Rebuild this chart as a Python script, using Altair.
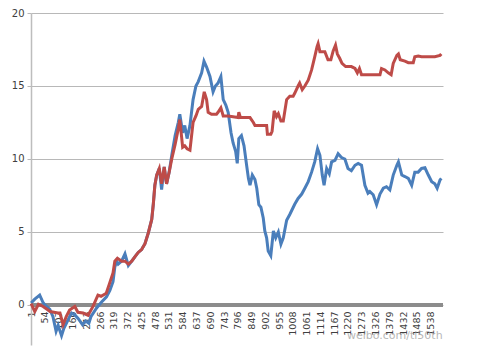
import altair as alt
import pandas as pd

blue_x = [1, 15, 34, 46, 54, 73, 85, 97, 105, 118, 127, 138, 149, 157, 170, 181, 199, 211, 223, 231,
          253, 272, 291, 304, 316, 323, 330, 336, 349, 362, 370, 375, 388, 400, 413, 426, 439, 452, 465, 471,
          477, 484, 494, 503, 513, 522, 532, 542, 555, 567, 573, 584, 592, 601, 612, 624, 635, 644, 657, 666,
          676, 689, 701, 710, 720, 731, 740, 750, 759, 770, 778, 788, 794, 800, 810, 820, 830, 837, 843, 852,
          862, 869, 877, 885, 894, 900, 907, 913, 923, 933, 942, 952, 962, 971, 984, 996, 1015, 1028, 1042, 1054,
          1067, 1080, 1092, 1103, 1112, 1121, 1128, 1138, 1148, 1157, 1170, 1182, 1195, 1208, 1220, 1233, 1247, 1259, 1272, 1285,
          1297, 1304, 1317, 1330, 1343, 1356, 1368, 1381, 1394, 1408, 1414, 1427, 1439, 1452, 1465, 1477, 1490, 1503, 1516, 1529,
          1542, 1554, 1563, 1574, 1579]
blue_y = [0.13, 0.4, 0.68, 0.2, 0.0, -0.3, -0.8, -1.8, -1.4, -2.1, -1.6, -1.2, -0.8, -0.55, -0.7, -0.9, -1.35, -1.1, -1.25, -0.8,
          -0.2, 0.2, 0.56, 1.0, 1.6, 2.6, 3.0, 2.8, 3.0, 3.5, 3.0, 2.7, 3.0, 3.3, 3.6, 3.8, 4.2, 4.95, 5.86, 6.9,
          8.2, 8.9, 9.35, 7.9, 9.46, 8.3, 9.1, 10.25, 11.6, 12.5, 13.06, 11.8, 12.3, 11.4, 12.3, 14.07, 15.0, 15.3, 15.9, 16.7,
          16.3, 15.65, 14.6, 15.0, 15.2, 15.65, 14.07, 13.7, 13.2, 11.8, 11.1, 10.5, 9.7, 11.4, 11.6, 10.9, 9.57, 8.67, 8.2, 8.9,
          8.6, 8.0, 6.87, 6.7, 5.96, 5.07, 4.6, 3.7, 3.38, 5.07, 4.6, 5.0, 4.17, 4.6, 5.8, 6.2, 6.9, 7.3, 7.6, 8.0,
          8.45, 9.1, 9.8, 10.7, 10.25, 8.9, 8.2, 9.35, 9.0, 9.8, 9.9, 10.36, 10.1, 10.0, 9.35, 9.2, 9.57, 9.7, 9.57, 8.2,
          7.66, 7.77, 7.55, 6.87, 7.6, 8.0, 8.1, 7.88, 8.9, 9.57, 9.8, 8.9, 8.8, 8.67, 8.2, 9.1, 9.1, 9.35, 9.4, 8.9,
          8.45, 8.3, 8.0, 8.56, 8.67]

red_x = [1, 15, 29, 47, 66, 74, 104, 112, 124, 136, 149, 169, 181, 201, 220, 239, 258, 270, 290, 303,
         316, 323, 333, 349, 362, 375, 388, 400, 413, 426, 439, 452, 465, 471, 477, 484, 494, 503, 513, 522,
         532, 542, 555, 567, 573, 584, 592, 601, 612, 624, 635, 644, 657, 667, 676, 682, 695, 714, 720, 731,
         740, 759, 797, 800, 806, 830, 843, 856, 862, 888, 907, 910, 923, 928, 936, 945, 952, 962, 971, 984,
         996, 1009, 1015, 1028, 1034, 1044, 1054, 1067, 1080, 1092, 1101, 1105, 1112, 1131, 1143, 1154, 1163, 1172, 1179, 1188,
         1197, 1211, 1233, 1247, 1256, 1264, 1272, 1285, 1343, 1349, 1362, 1375, 1386, 1394, 1408, 1414, 1421, 1439, 1452, 1471,
         1477, 1490, 1503, 1529, 1554, 1574, 1579]
red_y = [0.1, -0.45, 0.05, -0.1, -0.34, -0.45, -0.55, -0.55, -1.35, -0.8, -0.34, -0.1, -0.5, -0.55, -0.7, -0.1, 0.68, 0.6, 0.8, 1.5,
         2.2, 3.0, 3.2, 3.0, 3.0, 2.8, 3.0, 3.3, 3.6, 3.8, 4.2, 4.95, 5.86, 6.9, 8.2, 8.9, 9.35, 8.3, 9.46, 8.3,
         9.1, 10.0, 11.0, 12.05, 12.7, 10.8, 10.9, 10.7, 10.6, 12.5, 12.95, 13.4, 13.6, 14.6, 14.07, 13.2, 13.06, 13.06, 13.2, 13.5,
         12.95, 12.95, 12.84, 13.2, 12.84, 12.84, 12.84, 12.5, 12.3, 12.3, 12.3, 11.7, 11.7, 11.9, 13.3, 12.9, 13.1, 12.6, 12.6, 14.07,
         14.3, 14.3, 14.5, 15.0, 15.2, 14.75, 15.0, 15.4, 16.1, 17.0, 17.7, 17.9, 17.35, 17.35, 16.8, 16.8, 17.4, 17.8, 17.2, 16.9,
         16.55, 16.33, 16.33, 16.2, 15.9, 16.2, 15.77, 15.77, 15.77, 16.2, 16.1, 15.9, 15.77, 16.55, 17.1, 17.2, 16.8, 16.7, 16.6, 16.6,
         17.0, 17.05, 17.0, 17.0, 17.0, 17.1, 17.2]

x_ticks = [1, 54, 107, 160, 213, 266, 319, 372, 425, 478, 531, 584, 637, 690, 743, 796, 849, 902, 955,
           1008, 1061, 1114, 1167, 1220, 1273, 1326, 1379, 1432, 1485, 1538]
y_ticks = [0, 5, 10, 15, 20]
series = ["A", "B"]
colors = ["#4a7ebb", "#be4b48"]
watermark = ["weibo.com/tl50th"]

df = pd.DataFrame({
    "x": blue_x + red_x,
    "y": blue_y + red_y,
    "s": [series[0]] * len(blue_x) + [series[1]] * len(red_x),
})

xscale = alt.Scale(domain=[0.5, 1585.5], nice=False, zero=False)
yscale = alt.Scale(domain=[-2.74, 20], nice=False, zero=False)

font = "DejaVu Sans"

x_axis = alt.Axis(values=x_ticks, title=None, grid=False, domain=False, ticks=False, format="d",
                  labelAngle=-90, labelFont=font, labelFontSize=9.5, labelColor="#404040",
                  labelPadding=6, offset=-40, labelOverlap=False, labelFlush=False, labelBound=False)
y_axis = alt.Axis(values=y_ticks, title=None, grid=True, gridColor="#b8b8b8", gridWidth=1,
                  domainColor="#bdbdbd", domainWidth=1.5, tickColor="#b8b8b8", tickSize=4,
                  labelFont=font, labelFontSize=10, labelColor="#404040", labelPadding=3)

zero = alt.Chart(pd.DataFrame({"x": [1], "y": [0]})).mark_rule(color="#8c8c8c", strokeWidth=4).encode(
    y=alt.Y("y:Q", scale=yscale, axis=y_axis),
)

lines = alt.Chart(df).mark_line(strokeWidth=3, interpolate="linear").encode(
    x=alt.X("x:Q", scale=xscale, axis=x_axis),
    y=alt.Y("y:Q", scale=yscale, axis=y_axis),
    color=alt.Color("s:N", scale=alt.Scale(domain=series, range=colors), legend=None),
    order=alt.Order("x:Q"),
)

wm = alt.Chart(pd.DataFrame({"t": watermark, "x": [1400], "y": [-2.1]})).mark_text(
    color="#9a9a9a", opacity=0.7, fontSize=11, font=font
).encode(x=alt.X("x:Q", scale=xscale, axis=x_axis), y=alt.Y("y:Q", scale=yscale, axis=y_axis), text="t:N")

chart = alt.layer(zero, lines, wm).properties(
    width=412, height=332,
    autosize=alt.AutoSizeParams(type="none"),
    padding={"left": 23, "top": 5, "right": 27, "bottom": 2},
    background="white",
).configure_view(stroke=None)

chart.save("out.html", embed_options={"renderer": "svg", "actions": False})
